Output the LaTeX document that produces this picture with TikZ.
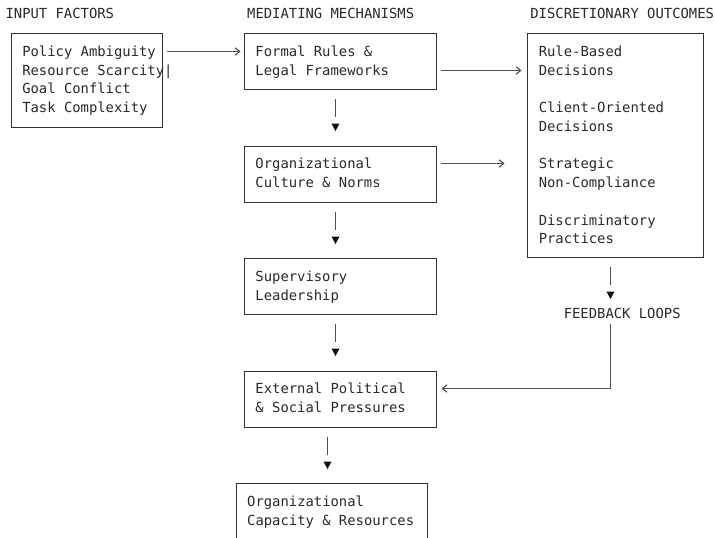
\documentclass[tikz,border=0pt]{standalone}
\usepackage{fontspec}
\setmonofont{DejaVu Sans Mono}
\usetikzlibrary{arrows.meta,calc}
\definecolor{txt}{HTML}{2A2A2A}
\definecolor{bord}{HTML}{333333}
\definecolor{lin}{HTML}{505050}
\definecolor{tipc}{HTML}{111111}
\newcommand\vlink[1]{%
  \draw[conn] ($(#1)+(0,9)$) -- ++(0,18.5);
  \fill[tipc] ($(#1)+(-4,34)$) -- ++(8,0) -- ++(-4,7.5) -- cycle;}
\begin{document}
\begin{tikzpicture}[x=0.75pt,y=-0.75pt,
  box/.style={draw=bord, line width=0.8pt, inner sep=0pt, anchor=north west},
  midbox/.style={box, minimum width=144pt, minimum height=42pt},
  t/.style={anchor=base west, inner sep=0pt, text=txt, font=\ttfamily\fontsize{10.4}{14}\selectfont},
  conn/.style={draw=lin, line width=0.85pt},
  harr/.style={conn, -{Straight Barb[length=3.4pt,width=5.6pt]}}]
\useasboundingbox (0,0) rectangle (715,537);
\clip (0,0) rectangle (715,537);
\fill[white] (0,0) rectangle (715,537);

% headers
\node[t] (hin)  at (5.3,18.75)   {INPUT FACTORS};
\node[t] (hmed) at (246.9,18.75) {MEDIATING MECHANISMS};
\node[t] (hout) at (530.1,18.75) {DISCRETIONARY OUTCOMES};

% boxes
\node[box, minimum width=113.25pt, minimum height=70.5pt] (input) at (10.5,32.5) {};
\node[midbox] (formal)   at (243.5,32.5)  {};
\node[midbox] (culture)  at (243.5,145.5) {};
\node[midbox] (superv)   at (243.5,257.5) {};
\node[midbox] (external) at (243.5,370.5) {};
\node[box, minimum width=143.25pt, minimum height=60pt] (capacity) at (235.5,482.5) {};
\node[box, minimum width=132pt, minimum height=168pt] (outcomes) at (526.5,32.5) {};

% input texts
\node[t] (i1) at (22,56.25)  {Policy Ambiguity};
\node[t] (i2) at (22,75)     {Resource Scarcity|};
\node[t] (i3) at (22,93.75)  {Goal Conflict};
\node[t] (i4) at (22,112.5)  {Task Complexity};

% mediating texts
\node[t] (f1) at (255.2,56.25)  {Formal Rules \&};
\node[t] (f2) at (255.2,75)     {Legal Frameworks};
\node[t] (c1) at (255.2,168.75) {Organizational};
\node[t] (c2) at (255.2,187.5)  {Culture \& Norms};
\node[t] (s1) at (255.2,281.25) {Supervisory};
\node[t] (s2) at (255.2,300)    {Leadership};
\node[t] (e1) at (255.2,393.75) {External Political};
\node[t] (e2) at (255.2,412.5)  {\& Social Pressures};
\node[t] (k1) at (246.9,506.25) {Organizational};
\node[t] (k2) at (246.9,525)    {Capacity \& Resources};

% outcome texts
\node[t] (o1) at (538.5,56.25)  {Rule-Based};
\node[t] (o2) at (538.5,75)     {Decisions};
\node[t] (o3) at (538.5,112.5)  {Client-Oriented};
\node[t] (o4) at (538.5,131.25) {Decisions};
\node[t] (o5) at (538.5,168.75) {Strategic};
\node[t] (o6) at (538.5,187.5)  {Non-Compliance};
\node[t] (o7) at (538.5,225)    {Discriminatory};
\node[t] (o8) at (538.5,243.75) {Practices};

\node[t] (fb) at (563.5,318.75) {FEEDBACK LOOPS};

% horizontal connectors
\draw[harr] ($(input.north east)+(4,19)$) coordinate (a1) -- ($(a1 -| formal.west)+(-3,0)$);
\draw[harr] ($(formal.north east)+(4,38)$) coordinate (a2) -- ($(a2 -| outcomes.west)+(-5,0)$);
\draw[harr] ($(culture.north east)+(4,18)$) coordinate (a3) -- ($(a3 -| outcomes.west)+(-22,0)$);

% vertical connectors
\coordinate (v1) at ($(formal.south west)+(92,0)$);
\coordinate (v2) at ($(culture.south west)+(92,0)$);
\coordinate (v3) at ($(superv.south west)+(92,0)$);
\coordinate (v4) at ($(external.south west)+(84,0)$);
\coordinate (v5) at ($(outcomes.south west)+(84,0)$);
\vlink{v1}
\vlink{v2}
\vlink{v3}
\vlink{v4}
\vlink{v5}

% feedback loop
\draw[harr] ($(fb.south -| v5)+(0,4.5)$) |- ($(external.north east)+(5,18)$);
\end{tikzpicture}
\end{document}
